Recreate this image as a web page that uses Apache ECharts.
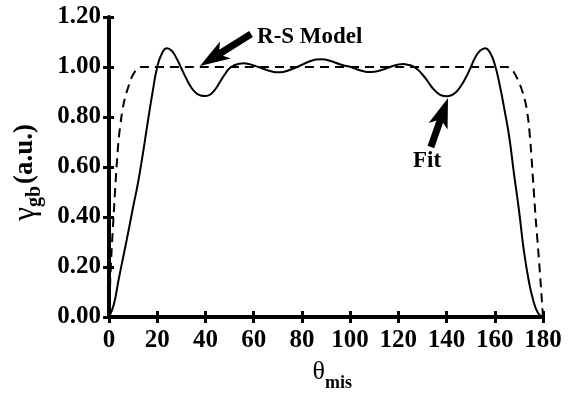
<!DOCTYPE html>
<html><head><meta charset="utf-8">
<script src="https://cdn.jsdelivr.net/npm/echarts@6/dist/echarts.min.js"></script>
<style>html,body{margin:0;padding:0;background:#fff}#c{width:571px;height:394px}</style>
</head><body><div id="c"></div>
<script>
// Fit curve (solid)
const fitX = [0,2,4,6,8,10,12,14,16,18,20,22,24,26,28,30,32,34,36,38,40,42,44,46,48,50,52,54,56,58,60,62,64,66,68,70,72,74,76,78,80,82,84,86,88,90,92,94,96,98,100,102,104,106,108,110,112,114,116,118,120,122,124,126,128,130,132,134,136,138,140,142,144,146,148,150,152,154,156,158,160,162,164,166,168,170,172,174,176,178,180];
const fitY = [0,0.05,0.15,0.245,0.34,0.44,0.535,0.65,0.775,0.895,1.0,1.055,1.075,1.065,1.035,0.995,0.955,0.92,0.897,0.886,0.884,0.89,0.91,0.94,0.97,0.995,1.007,1.013,1.015,1.012,1.006,1.0,0.993,0.986,0.981,0.979,0.98,0.985,0.992,1.0,1.009,1.018,1.025,1.03,1.031,1.029,1.024,1.017,1.01,1.005,1.001,0.994,0.987,0.982,0.98,0.981,0.985,0.991,0.998,1.005,1.01,1.012,1.009,1.003,0.99,0.97,0.945,0.918,0.898,0.886,0.883,0.887,0.9,0.925,0.958,0.998,1.04,1.066,1.075,1.058,1.01,0.93,0.83,0.72,0.57,0.43,0.27,0.15,0.065,0.015,0];
// R-S model (dashed)
const rsX = [0,0.5,1,2,3,4,5,6,7,8,9,10,11,12,13,14,15,165,166,167,168,169,170,171,172,173,174,175,176,177,178,179,180];
const rsY = [0,0.14,0.25,0.42,0.58,0.71,0.79,0.85,0.89,0.92,0.95,0.97,0.985,0.995,1.0,1.0,1.0,1.0,0.998,0.99,0.978,0.96,0.94,0.915,0.885,0.845,0.78,0.67,0.53,0.39,0.27,0.14,0];
const xTicks = [0,20,40,60,80,100,120,140,160,180];
const yTicks = [0,0.2,0.4,0.6,0.8,1.0,1.2];

const SERIF = '"Liberation Serif","Times New Roman",serif';
const chart = echarts.init(document.getElementById('c'));
const zip = (a, b) => a.map((v, i) => [v, b[i]]);

const baseX = {type:'value', min:xTicks[0], max:xTicks[xTicks.length-1], interval:20, position:'bottom',
  splitLine:{show:false}};
const baseY = {type:'value', min:yTicks[0], max:yTicks[yTicks.length-1], interval:0.2, position:'left',
  splitLine:{show:false}};

chart.setOption({
  animation:false,
  backgroundColor:'#fff',
  grid:{left:109, right:28, top:17, bottom:77},
  xAxis:[
    Object.assign({}, baseX, {
      axisLine:{lineStyle:{color:'#000', width:4}},
      axisTick:{length:6, lineStyle:{color:'#000', width:3}},
      axisLabel:{color:'#000', fontFamily:SERIF, fontWeight:'bold', fontSize:25, margin:11}
    }),
    Object.assign({}, baseX, {
      axisLine:{show:false},
      axisTick:{inside:true, length:6, lineStyle:{color:'#000', width:3}},
      axisLabel:{show:false}
    })
  ],
  yAxis:[
    Object.assign({}, baseY, {
      axisLine:{lineStyle:{color:'#000', width:4}},
      axisTick:{length:6, lineStyle:{color:'#000', width:3}},
      axisLabel:{color:'#000', fontFamily:SERIF, fontWeight:'bold', fontSize:25, margin:8,
        formatter:v => v.toFixed(2)}
    }),
    Object.assign({}, baseY, {
      axisLine:{show:false},
      axisTick:{inside:true, length:5, lineStyle:{color:'#000', width:3}},
      axisLabel:{show:false}
    })
  ],
  series:[
    {type:'line', name:'R-S Model', data:zip(rsX, rsY), showSymbol:false, smooth:0.3,
      lineStyle:{color:'#000', width:2, type:[9,6]}, z:3},
    {type:'line', name:'Fit', data:zip(fitX, fitY), showSymbol:false, smooth:true,
      lineStyle:{color:'#000', width:2}, z:4}
  ]
});

function arrowPts(tail, tip, shaftW, headL, headW, notch){
  const dx = tip[0]-tail[0], dy = tip[1]-tail[1], L = Math.hypot(dx, dy);
  const ux = dx/L, uy = dy/L, nx = -uy, ny = ux;
  const bx = tip[0]-ux*headL, by = tip[1]-uy*headL;
  const cx = bx-ux*notch, cy = by-uy*notch;
  return [
    [tail[0]+nx*shaftW/2, tail[1]+ny*shaftW/2],
    [bx+nx*shaftW/2, by+ny*shaftW/2],
    [cx+nx*headW/2, cy+ny*headW/2],
    tip,
    [cx-nx*headW/2, cy-ny*headW/2],
    [bx-nx*shaftW/2, by-ny*shaftW/2],
    [tail[0]-nx*shaftW/2, tail[1]-ny*shaftW/2]
  ];
}
const P = (x, y) => chart.convertToPixel({xAxisIndex:0, yAxisIndex:0}, [x, y]);

const rsTip = P(37.7, 1.004), rsTail = P(58.9, 1.132);
const fitTip = P(140.6, 0.876), fitTail = P(133.5, 0.68);
const rsText = P(61.4, 1.12), fitText = P(126.1, 0.624);

chart.setOption({
  graphic:[
    {type:'polygon', shape:{points:arrowPts(rsTail, rsTip, 7, 25, 20, 5)}, style:{fill:'#000'}, z:10},
    {type:'polygon', shape:{points:arrowPts(fitTail, fitTip, 7, 25, 20, 5)}, style:{fill:'#000'}, z:10},
    {type:'text', x:rsText[0], y:rsText[1], style:{text:'R-S Model', fill:'#000', font:'bold 23px '+SERIF, verticalAlign:'middle', align:'left'}, z:10},
    {type:'text', x:fitText[0], y:fitText[1], style:{text:'Fit', fill:'#000', font:'bold 23px '+SERIF, verticalAlign:'middle', align:'left'}, z:10},
    // x-axis title
    {type:'text', x:325, y:385, style:{text:'θ', fill:'#000', font:'26px '+SERIF, align:'right', verticalAlign:'bottom'}},
    {type:'text', x:325, y:392, style:{text:'mis', fill:'#000', font:'bold 18px '+SERIF, align:'left', verticalAlign:'bottom'}},
    // y-axis title (rotated)
    {type:'group', x:25, y:176, rotation:Math.PI/2, children:[
      {type:'text', x:-31, y:1, style:{text:'γ', fill:'#000', font:'31px '+SERIF, align:'right', verticalAlign:'middle'}},
      {type:'text', x:-31, y:10, style:{text:'gb', fill:'#000', font:'bold 20px '+SERIF, align:'left', verticalAlign:'middle'}},
      {type:'text', x:-8, y:0, style:{text:'(a.u.)', fill:'#000', font:'bold 27px '+SERIF, align:'left', verticalAlign:'middle'}}
    ]}
  ]
});
</script>
</body></html>
